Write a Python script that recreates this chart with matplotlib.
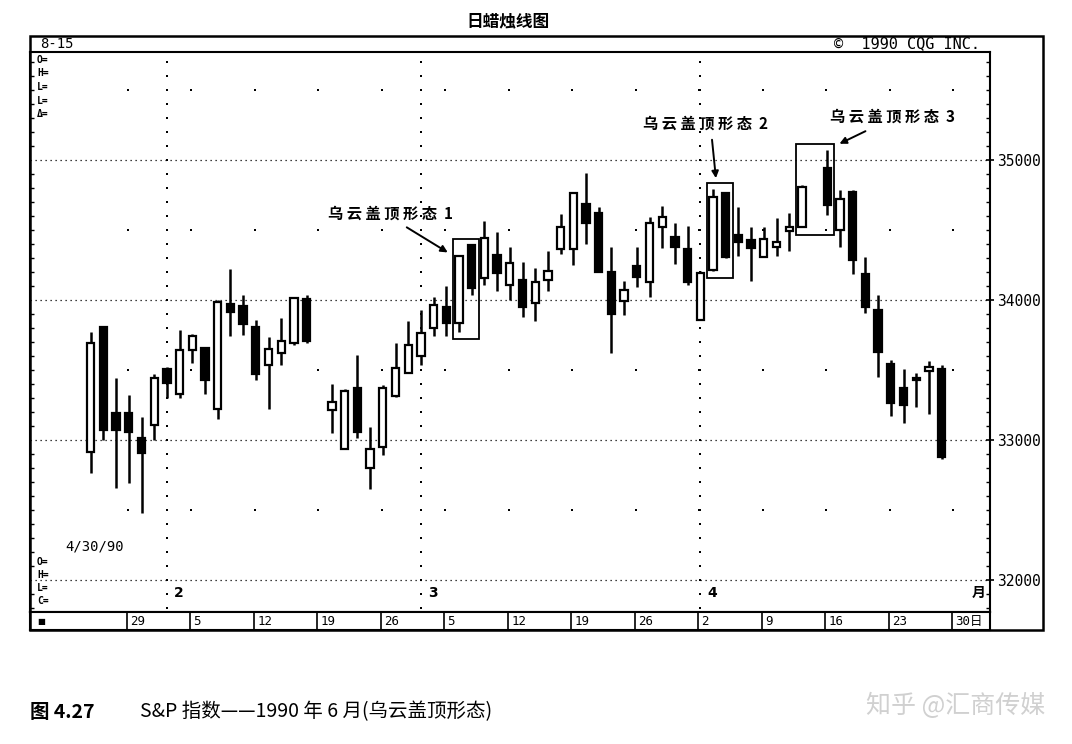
import matplotlib
matplotlib.use('Agg')
import matplotlib.pyplot as plt
import numpy as np
import pandas as pd
from matplotlib.patches import Rectangle

plt.rcParams['font.family'] = ['Noto Sans CJK SC', 'DejaVu Sans']

# trading days (business-day slots, holidays left blank)
holidays = ['1990-02-19', '1990-04-13']

opens = [32916, 33805, 33191, 33195, 33012, 33107, 33505, 33329, 33643, 33655,
         33219, 33969, 33957, 33810, 33536, 33624, 33691, 34005,
         33214, 32934, 33369, 32798, 32952, 33314, 33481, 33600, 33798, 33948,
         33838, 34393, 34155, 34321, 34107, 34143, 33981, 34143, 34362, 34362,
         34686, 34619, 34202, 33995, 34243, 34131, 34519, 34448, 34362, 33857,
         34214, 34762, 34464, 34429, 34310, 34381, 34495, 34519,
         34940, 34500, 34774, 34186, 33929, 33543, 33369, 33430, 33495, 33505]
highs = [33774, 33814, 33441, 33321, 33166, 33471, 33524, 33786, 33757, 33655,
         34000, 34219, 34036, 33857, 33733, 33869, 34024, 34036,
         33400, 33362, 33607, 33095, 33393, 33695, 33852, 33929, 34024, 34100,
         34321, 34393, 34567, 34488, 34381, 34274, 34226, 34352, 34614, 34774,
         34910, 34667, 34376, 34138, 34376, 34595, 34671, 34552, 34529, 34210,
         34790, 34774, 34662, 34519, 34519, 34583, 34624, 34821,
         35071, 34786, 34786, 34310, 34036, 33571, 33505, 33481, 33567, 33536]
lows = [32762, 33000, 32655, 32691, 32476, 33000, 33298, 33298, 33548, 33329,
        33148, 33743, 33750, 33429, 33219, 33536, 33679, 33695,
        33052, 32934, 33012, 32648, 32893, 33309, 33481, 33536, 33743, 33743,
        33774, 34036, 34107, 34067, 34000, 33881, 33852, 34067, 34329, 34250,
        34400, 34202, 33624, 33893, 34090, 34024, 34369, 34257, 34107, 33857,
        34209, 34298, 34314, 34138, 34305, 34314, 34352, 34519,
        34607, 34381, 34186, 33910, 33448, 33171, 33119, 33233, 33186, 32862]
closes = [33691, 33071, 33071, 33059, 32905, 33445, 33409, 33643, 33743, 33429,
          33988, 33917, 33829, 33471, 33648, 33710, 34012, 33710,
          33274, 33352, 33059, 32934, 33369, 33512, 33679, 33767, 33964, 33838,
          34314, 34083, 34440, 34195, 34262, 33948, 34131, 34210, 34524, 34762,
          34548, 34202, 33900, 34071, 34162, 34552, 34590, 34376, 34131, 34195,
          34738, 34305, 34417, 34369, 34433, 34417, 34519, 34810,
          34679, 34719, 34286, 33952, 33631, 33262, 33250, 33440, 33519, 32881]

week_labels = ['29', '5', '12', '19', '26', '5', '12', '19', '26', '2', '9', '16', '23', '30日']
month_labels = ['2', '3', '4']
month_starts = ['1990-02-01', '1990-03-01', '1990-04-02']
y_ticks = [32000, 33000, 34000, 35000]

# pattern boxes: (first day, last day, label)
patterns = [('1990-03-06', '1990-03-07', '乌云盖顶形态 1'),
            ('1990-04-03', '1990-04-04', '乌云盖顶形态 2'),
            ('1990-04-12', '1990-04-16', '乌云盖顶形态 3')]

all_days = pd.bdate_range('1990-01-24', '1990-04-30')
trade_days = all_days[:-1][~all_days[:-1].isin(pd.to_datetime(holidays))]
xs = all_days.get_indexer(trade_days)
mondays = all_days[all_days.dayofweek == 0]
week_pos = all_days.get_indexer(mondays)
month_pos = all_days.get_indexer(pd.to_datetime(month_starts))

o = np.array(opens); h = np.array(highs); l = np.array(lows); c = np.array(closes)

W, H = 1072, 744


def fbox(x0, y0, x1, y1):
    return [x0 / W, 1 - y1 / H, (x1 - x0) / W, (y1 - y0) / H]


fig = plt.figure(figsize=(W / 100, H / 100), dpi=100)
ax = fig.add_axes(fbox(30, 52, 990, 612))
dax = fig.add_axes(fbox(30, 612, 990, 630))

xlim = (-4.78, 70.81)
ax.set_xlim(*xlim)
ax.set_ylim(31771, 35771)

# grid: dotted at thousands, sparse dots elsewhere
ax.hlines(y_ticks, xlim[0], xlim[1], colors='k', linestyles=(0, (1, 3)), lw=0.9, zorder=1)
for mp in month_pos:
    lv = np.arange(31800, 35800, 100)
    ax.scatter(np.full(len(lv), mp), lv, s=1.5, c='k', marker='s', lw=0, zorder=1)
half = np.arange(32500, 36000, 1000)
for hv in half:
    ax.scatter(week_pos - 0.1, np.full(len(week_pos), hv), s=1.5, c='k', marker='s', lw=0, zorder=1)

# candles
up = c >= o
ax.vlines(xs, l, h, colors='k', lw=1.8, zorder=2)
bot = np.minimum(o, c)
ht = np.maximum(np.abs(c - o), 15)
ax.bar(xs, ht, bottom=bot, width=0.58, color=np.where(up, 'white', 'black'),
       edgecolor='k', lw=1.6, zorder=3)

# pattern boxes and labels
text_pos = [(23.6, 34614), (48.4, 35257), (63.1, 35307)]
arrow_tail = [(24.7, 34529), (48.9, 35164), (61.2, 35214)]
arrow_tip = [(28.3, 34329), (49.25, 34850), (58.76, 35107)]
for (d0, d1, lab), tp, at, ah in zip(patterns, text_pos, arrow_tail, arrow_tip):
    i0 = all_days.get_loc(pd.Timestamp(d0))
    i1 = all_days.get_loc(pd.Timestamp(d1))
    sel = (xs >= i0) & (xs <= i1)
    y0 = l[sel].min() - 55
    y1 = h[sel].max() + 45
    ax.add_patch(Rectangle((i0 - 0.5, y0), i1 - i0 + 1.05, y1 - y0, fill=False,
                           ec='k', lw=1.3, zorder=4))
    ax.text(tp[0], tp[1], ' '.join(lab.replace(' ', '')[:6]) + '  ' + lab[-1],
            ha='center', va='center', fontsize=11, fontweight='bold')
    ax.annotate('', xy=ah, xytext=at,
                arrowprops=dict(arrowstyle='-|>', color='k', lw=1.4, mutation_scale=10))

# month labels
for mp, ml in zip(month_pos, month_labels):
    ax.text(mp + 0.55, 31860, ml, fontsize=10, fontweight='bold', family='DejaVu Sans', va='bottom')
ax.text(69.4, 31860, '月', fontsize=10, fontweight='bold', va='bottom')

# axis styling
ax.yaxis.tick_right()
ax.set_yticks(y_ticks)
ax.set_yticklabels([str(v) for v in y_ticks], family='DejaVu Sans Mono', fontsize=10.5)
ax.set_yticks(np.arange(31800, 35800, 100), minor=True)
ax.tick_params(axis='y', which='major', direction='inout', length=6, width=1.2, pad=2, right=True, left=False)
ax.tick_params(axis='y', which='minor', direction='in', length=3, width=1, right=True, left=True)
ax.set_xticks([])
for s in ax.spines.values():
    s.set_linewidth(1.5)

# side info text
info_top = ['O=', 'H=', 'L=', 'L=', 'Δ=']
for k, t in enumerate(info_top):
    fig.text(37 / W, 1 - (60 + 13.5 * k) / H, t, fontsize=7, family='DejaVu Sans Mono',
             fontweight='bold', va='center')
info_bot = ['O=', 'H=', 'L=', 'C=']
for k, t in enumerate(info_bot):
    fig.text(37 / W, 1 - (562 + 13 * k) / H, t, fontsize=7, family='DejaVu Sans Mono',
             fontweight='bold', va='center')
fig.text(65 / W, 1 - 547 / H, '4/30/90', fontsize=10, family='DejaVu Sans Mono', va='center')

# date band
dax.set_xlim(*xlim)
dax.set_ylim(0, 1)
dax.set_xticks([]); dax.set_yticks([])
for s in dax.spines.values():
    s.set_linewidth(1.5)
dax.vlines(week_pos - 0.15, 0, 1, colors='k', lw=1.2)
for wp, wl in zip(week_pos, week_labels):
    dax.text(wp + 0.1, 0.45, wl, fontsize=9, family=['DejaVu Sans Mono', 'Noto Sans CJK SC'], va='center')
dax.text(-4.2, 0.45, '■', fontsize=6, family='DejaVu Sans', va='center')

# outer frame and header
fig.add_artist(Rectangle((30 / W, 1 - 630 / H), (1043 - 30) / W, (630 - 36) / H,
                         transform=fig.transFigure, fill=False, ec='k', lw=1.8))
fig.text(40 / W, 1 - 44 / H, '8-15', fontsize=10, family='DejaVu Sans Mono', va='center')
fig.text(980 / W, 1 - 44 / H, '©  1990 CQG INC.', fontsize=11, family='DejaVu Sans Mono',
         va='center', ha='right')
fig.text(508 / W, 1 - 21 / H, '日蜡烛线图', fontsize=12, fontweight='bold', ha='center', va='center')

# caption and watermark
fig.text(30 / W, 1 - 712 / H, '图 4.27', fontsize=14, fontweight='bold', va='center')
fig.text(140 / W, 1 - 712 / H, 'S&P 指数——1990 年 6 月(乌云盖顶形态)', fontsize=14, va='center')
fig.text(1045 / W, 1 - 706 / H, '知乎 @汇商传媒', fontsize=18, color='#d0d0d0', ha='right', va='center')

fig.savefig('out.png', dpi=100)
